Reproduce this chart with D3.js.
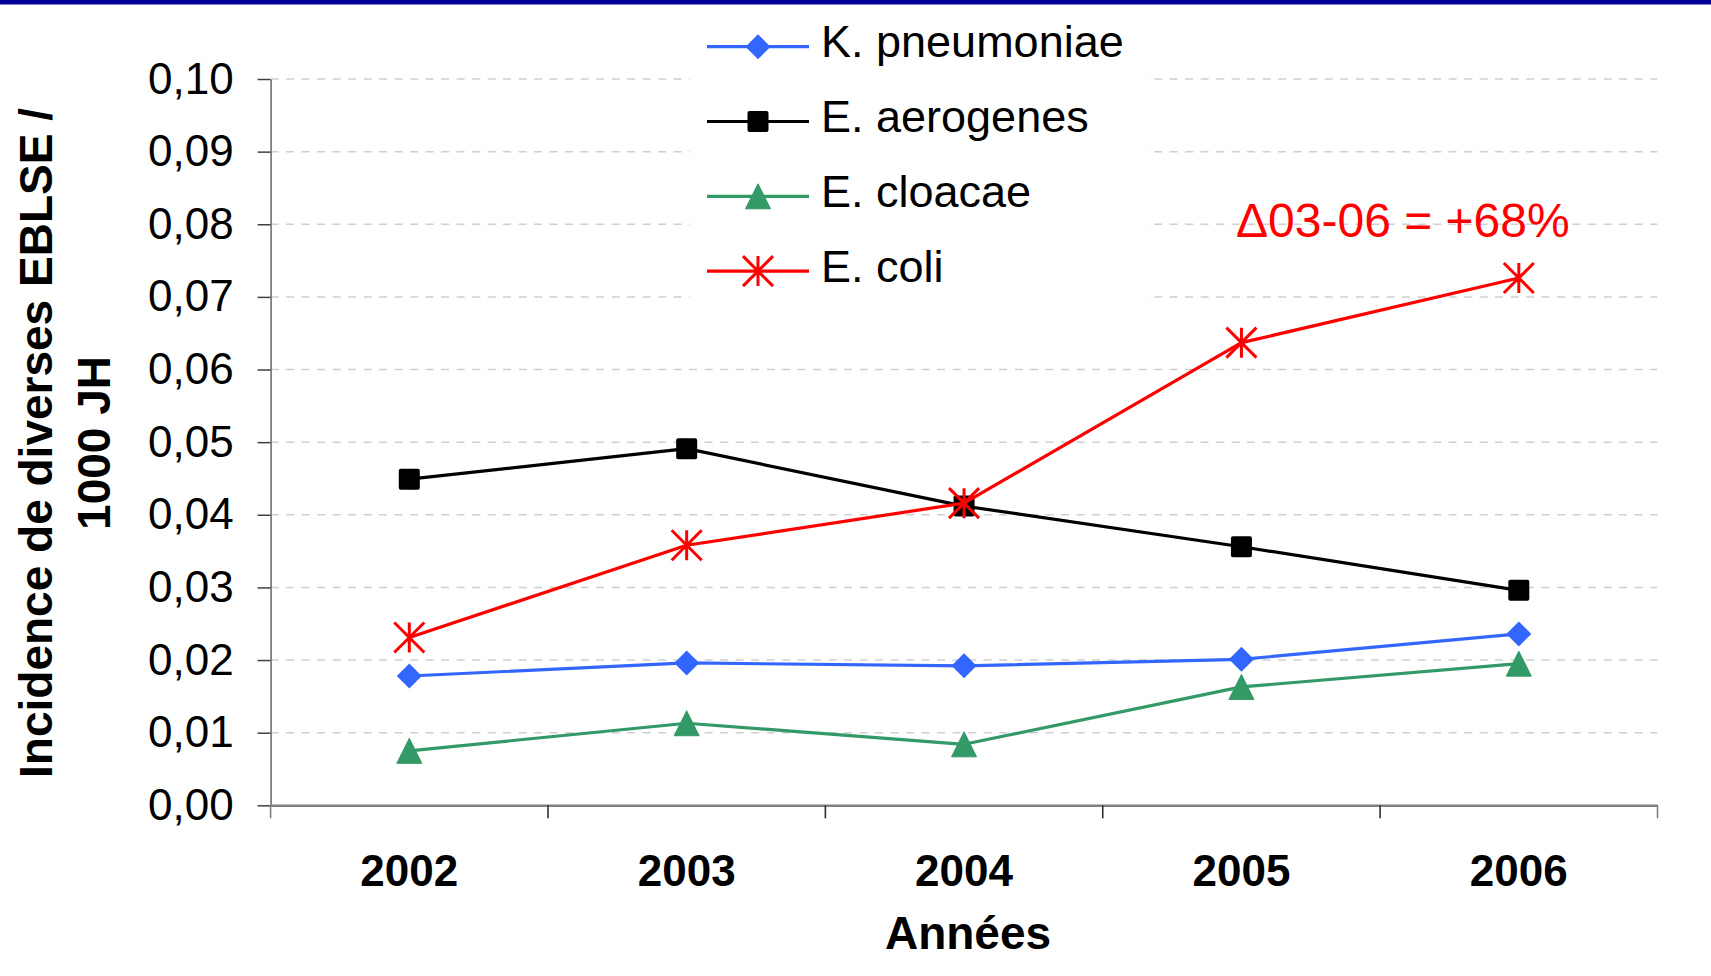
<!DOCTYPE html>
<html><head><meta charset="utf-8">
<script src="https://cdn.jsdelivr.net/npm/d3@7"></script>
<style>
body{margin:0;background:#fff;}
svg{display:block;font-family:"Liberation Sans",Arial,Helvetica,sans-serif;}
</style>
</head><body>
<svg id="chart" width="1711" height="976"></svg>
<script>
// ---- data ----
const years = ["2002", "2003", "2004", "2005", "2006"];
const seriesNames = ["K. pneumoniae", "E. aerogenes", "E. cloacae", "E. coli"];
const kPneumoniae = [0.0178, 0.0196, 0.0192, 0.0201, 0.0236];
const eAerogenes  = [0.0449, 0.0491, 0.0412, 0.0356, 0.0296];
const eCloacae    = [0.0075, 0.0113, 0.0084, 0.0163, 0.0195];
const eColi       = [0.0231, 0.0358, 0.0416, 0.0637, 0.0726];
const yTicks      = [0.00, 0.01, 0.02, 0.03, 0.04, 0.05, 0.06, 0.07, 0.08, 0.09, 0.10];
const yTickLabels = ["0,00", "0,01", "0,02", "0,03", "0,04", "0,05", "0,06", "0,07", "0,08", "0,09", "0,10"];
const seriesColors  = ["#3366FF", "#000000", "#339966", "#FF0000"];
const seriesMarkers = ["diamond", "square", "triangle", "star"];
const yTitleLines = ["Incidence de diverses EBLSE /", "1000 JH"];
const xTitle = "Années";
const annotation = "\u039403-06 = +68%";

(function () {
const seriesValues = [kPneumoniae, eAerogenes, eCloacae, eColi];
const series = seriesNames.map((name, i) => ({
  name, color: seriesColors[i], marker: seriesMarkers[i],
  values: years.map((yr, j) => ({year: yr, value: seriesValues[i][j]}))
}));

const svg = d3.select("#chart");
const pLeft = 270.6, pRight = 1657.5, pTop = 79, pBottom = 805.3;

const x = d3.scaleBand().domain(years).range([pLeft, pRight]).padding(0);
const y = d3.scaleLinear().domain([0, 0.10]).range([pBottom, pTop]);

// top bar
svg.append("rect").attr("x", 0).attr("y", 0).attr("width", 1711).attr("height", 4.5).attr("fill", "#000099");

// gridlines
svg.append("g").selectAll("line").data(yTicks.filter(d => d > 0)).join("line")
  .attr("x1", pLeft).attr("x2", pRight)
  .attr("y1", d => y(d)).attr("y2", d => y(d))
  .attr("stroke", "#cfcfcf").attr("stroke-width", 1.5)
  .attr("stroke-dasharray", "8,7.5");

// y axis
const yAxis = svg.append("g").attr("transform", `translate(${pLeft},0)`)
  .call(d3.axisLeft(y).tickValues(yTicks).tickFormat((d, i) => yTickLabels[i])
    .tickSize(13).tickSizeOuter(0).tickPadding(24));
yAxis.select(".domain").attr("stroke", "#808080").attr("stroke-width", 1.8);
yAxis.selectAll(".tick line").attr("stroke", "#404040").attr("stroke-width", 1.5);
yAxis.selectAll(".tick text").attr("font-size", 44).attr("fill", "#000")
  .attr("font-family", "'Liberation Sans',Arial,sans-serif");

// x axis
const xAxis = svg.append("g").attr("transform", `translate(0,${pBottom})`)
  .call(d3.axisBottom(x).tickSize(0).tickSizeOuter(0));
xAxis.select(".domain").attr("stroke", "#808080").attr("stroke-width", 2.5);
xAxis.selectAll(".tick text").attr("y", 81).attr("dy", 0)
  .attr("font-size", 44).attr("font-weight", "bold").attr("fill", "#000")
  .attr("font-family", "'Liberation Sans',Arial,sans-serif");
const boundaries = years.map(d => x(d)).concat([x(years[years.length - 1]) + x.bandwidth()]);
svg.append("g").selectAll("line").data(boundaries).join("line")
  .attr("x1", d => d).attr("x2", d => d)
  .attr("y1", pBottom).attr("y2", pBottom + 13)
  .attr("stroke", (d, i) => (i === 0 || i === boundaries.length - 1) ? "#808080" : "#303030")
  .attr("stroke-width", 1.6);

// axis titles
svg.append("text").attr("x", (pLeft + pRight) / 2 + 4).attr("y", 949)
  .attr("text-anchor", "middle").attr("font-size", 46).attr("font-weight", "bold").text(xTitle);
svg.append("g").selectAll("text").data(yTitleLines).join("text")
  .attr("transform", (d, i) => `translate(${i === 0 ? 52 : 110},443) rotate(-90)`)
  .attr("text-anchor", "middle").attr("font-size", 46).attr("font-weight", "bold").text(d => d);

// markers
function drawMarker(g, type, color) {
  if (type === "diamond") {
    g.append("path").attr("d", "M0,-12.5L12.5,0L0,12.5L-12.5,0Z").attr("fill", color);
  } else if (type === "square") {
    g.append("rect").attr("x", -10.5).attr("y", -10.5).attr("width", 21).attr("height", 21)
      .attr("rx", 2).attr("fill", color);
  } else if (type === "triangle") {
    g.append("path").attr("d", "M0,-12.5L12.5,12.5L-12.5,12.5Z").attr("fill", color)
      .attr("stroke", color).attr("stroke-width", 1).attr("stroke-linejoin", "round");
  } else if (type === "star") {
    const r = 15;
    g.append("path").attr("d", `M0,${-r}V${r}M${-r},${-r}L${r},${r}M${r},${-r}L${-r},${r}`)
      .attr("stroke", color).attr("stroke-width", 3).attr("fill", "none");
  }
}

// lines
const line = d3.line().x(d => x(d.year) + x.bandwidth() / 2).y(d => y(d.value));
const sg = svg.append("g").selectAll("g").data(series).join("g");
sg.append("path").attr("d", d => line(d.values)).attr("fill", "none")
  .attr("stroke", d => d.color).attr("stroke-width", 3.2).attr("stroke-linejoin", "round");
sg.each(function(s) {
  d3.select(this).selectAll("g.m").data(s.values).join("g").attr("class", "m")
    .attr("transform", d => `translate(${x(d.year) + x.bandwidth() / 2},${y(d.value)})`)
    .each(function() { drawMarker(d3.select(this), s.marker, s.color); });
});

// legend
const legend = svg.append("g");
legend.append("rect").attr("x", 690).attr("y", 5).attr("width", 456).attr("height", 315).attr("fill", "#fff");
const li = legend.selectAll("g.li").data(series).join("g").attr("class", "li")
  .attr("transform", (d, i) => `translate(0,${46.7 + i * 74.8})`);
li.append("line").attr("x1", 707).attr("x2", 809).attr("y1", 0).attr("y2", 0)
  .attr("stroke", d => d.color).attr("stroke-width", 3.2);
li.each(function(s) {
  const m = d3.select(this).append("g").attr("transform", "translate(758,0)");
  drawMarker(m, s.marker, s.color);
});
li.append("text").attr("x", 821).attr("y", 10.6).attr("font-size", 45).attr("fill", "#000").text(d => d.name);

// annotation
svg.append("text").attr("x", 1236).attr("y", 237).attr("font-size", 48).attr("fill", "#FF0000").text(annotation);
})();
</script>
</body></html>
